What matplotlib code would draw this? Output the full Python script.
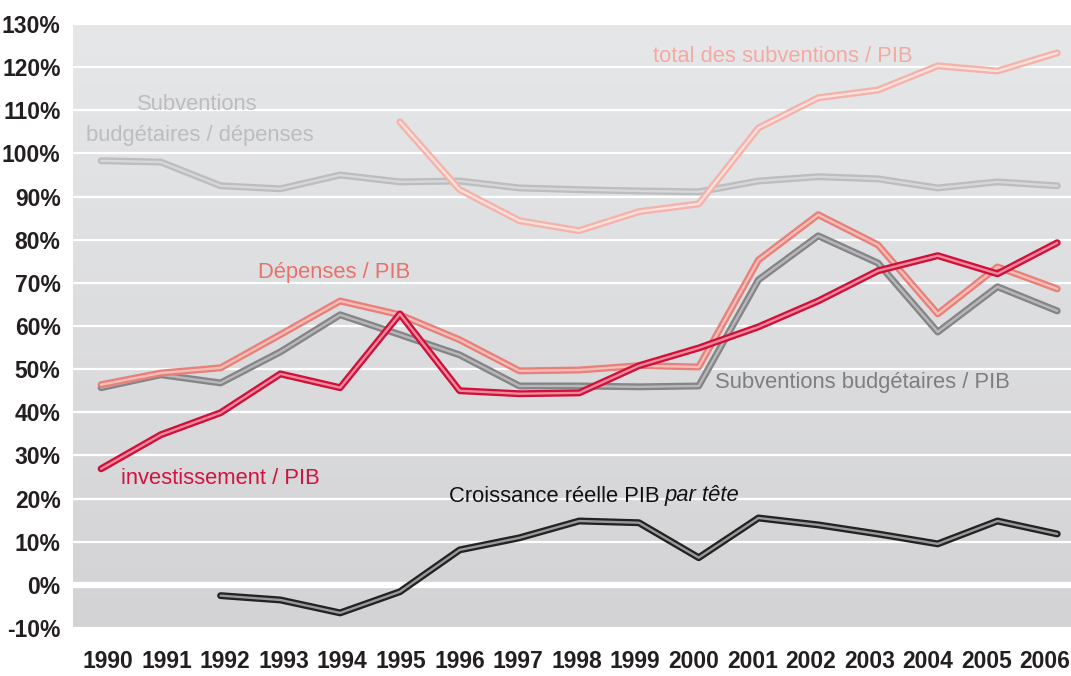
import numpy as np
import matplotlib
matplotlib.use('Agg')
import matplotlib.pyplot as plt
from matplotlib import font_manager
from matplotlib.colors import LinearSegmentedColormap
from matplotlib.transforms import offset_copy

# data (percent)
years = list(range(1990, 2007))
subv_dep = [98.3, 98.0, 92.5, 91.8, 95.0, 93.4, 93.6, 92.0, 91.6, 91.3, 91.1, 93.6, 94.6, 94.1, 92.0, 93.4, 92.5]
total_years = list(range(1995, 2007))
total_subv = [107.3, 91.6, 84.4, 82.1, 86.5, 88.3, 105.9, 112.9, 114.7, 120.3, 119.1, 123.3]
depenses = [46.4, 49.1, 50.3, 58.0, 65.8, 62.6, 56.8, 49.6, 49.8, 50.8, 50.5, 75.3, 85.8, 78.8, 62.8, 73.7, 68.6]
subv_pib = [45.7, 48.7, 46.8, 54.0, 62.6, 58.0, 53.3, 46.1, 46.1, 45.9, 46.1, 70.7, 80.9, 74.6, 58.6, 69.1, 63.5]
invest = [26.9, 34.8, 39.9, 48.9, 45.7, 62.8, 45.0, 44.3, 44.5, 50.8, 54.9, 59.8, 65.8, 72.8, 76.3, 72.1, 79.3]
croiss_years = list(range(1992, 2007))
croissance = [-2.5, -3.5, -6.5, -1.6, 8.1, 10.9, 14.8, 14.4, 6.3, 15.5, 13.9, 11.8, 9.5, 14.8, 11.8]

yticks = list(range(-10, 131, 10))
ytick_labels = [f'{v}%' for v in yticks]

# pick a narrow font if one is there
names = {f.name for f in font_manager.fontManager.ttflist}
if 'Liberation Sans Narrow' in names:
    tick_font = ['Liberation Sans Narrow', 'DejaVu Sans']
    text_font = ['Liberation Sans Narrow', 'DejaVu Sans']
    tick_size, text_size = 19.5, 18
else:
    tick_font = ['Liberation Sans', 'DejaVu Sans']
    text_font = ['Liberation Sans', 'DejaVu Sans']
    tick_size, text_size = 16.5, 15.8

fig = plt.figure(figsize=(10.71, 6.76), dpi=100)
ax = fig.add_axes([73/1071, 48/676, 998/1071, 604/676])
ax.set_xlim(1989.53, 2006.23)
ax.set_ylim(-10, 130)

# gradient background
cmap = LinearSegmentedColormap.from_list('bg', ['#d3d3d5', '#e6e7e9'])
grad = np.linspace(0, 1, 256).reshape(-1, 1)
ax.imshow(grad, cmap=cmap, origin='lower', aspect='auto',
          extent=[1989.53, 2006.23, -10, 130], zorder=0)

for v in yticks:
    ax.axhline(v, color='white', lw=1.6, zorder=1)
ax.axhline(0, color='white', lw=4.5, zorder=1)

def dbl(x, y, outer, inner, lw=5.0, ilw=1.7):
    ax.plot(x, y, color=outer, lw=lw, solid_capstyle='round', solid_joinstyle='round', zorder=3)
    ax.plot(x, y, color=inner, lw=ilw, solid_capstyle='round', solid_joinstyle='round', zorder=3)

dbl(years, subv_dep, '#bdbdbf', '#d8d8da')
dbl(total_years, total_subv, '#f3b2aa', '#fde0dc')
dbl(years, subv_pib, '#858587', '#b8b8ba')
dbl(years, depenses, '#e8807a', '#f6bdb8')
dbl(years, invest, '#d0103a', '#ee8a9c')
dbl(croiss_years, croissance, '#222222', '#9a9a9a')

def label(xp, yp, s, color, **kw):
    # position given in pixels from the top-left of the picture
    return fig.text(xp / 1071, 1 - yp / 676, s, color=color, fontsize=text_size,
                    family=text_font, ha='center', va='center', **kw)

label(783, 56, 'total des subventions / PIB', '#f3aaa2')
label(197, 104, 'Subventions', '#bdbdbf')
label(200, 135, 'budgétaires / dépenses', '#bdbdbf')
label(334, 272, 'Dépenses / PIB', '#e8716c')
label(862, 383, 'Subventions budgétaires / PIB', '#7e7e80')
label(220, 478, 'investissement / PIB', '#d4123f')

t1 = fig.text(449 / 1071, 1 - 496 / 676, 'Croissance réelle PIB', color='#111111',
              fontsize=text_size, family=text_font, ha='left', va='center')
fig.canvas.draw()
bb = t1.get_window_extent(fig.canvas.get_renderer())
fig.text((bb.x1 + 5) / 1071, 1 - 496 / 676, 'par tête', color='#111111', style='italic',
         fontsize=text_size, family=text_font, ha='left', va='center')

ax.set_yticks(yticks)
ax.set_yticklabels(ytick_labels)
ax.set_xticks(years)
ax.set_xticklabels([])
for lab in ax.get_yticklabels():
    lab.set_family(tick_font)
    lab.set_fontweight('bold')
    lab.set_fontsize(tick_size)
    lab.set_color('#231f20')
# year labels: in the original they sit on a slightly tighter spacing than the data
xtr = ax.get_xaxis_transform()
for i, yr in enumerate(years):
    tr = offset_copy(xtr, fig=fig, x=7 - 1.2 * i, y=-34, units='dots')
    ax.text(yr, 0, str(yr), transform=tr, ha='center', va='center', family=tick_font,
            fontweight='bold', fontsize=tick_size, color='#231f20', clip_on=False)
ax.tick_params(axis='both', length=0)
ax.tick_params(axis='y', pad=9)
for s in ax.spines.values():
    s.set_visible(False)

fig.savefig('out.png', dpi=100, facecolor='white')
